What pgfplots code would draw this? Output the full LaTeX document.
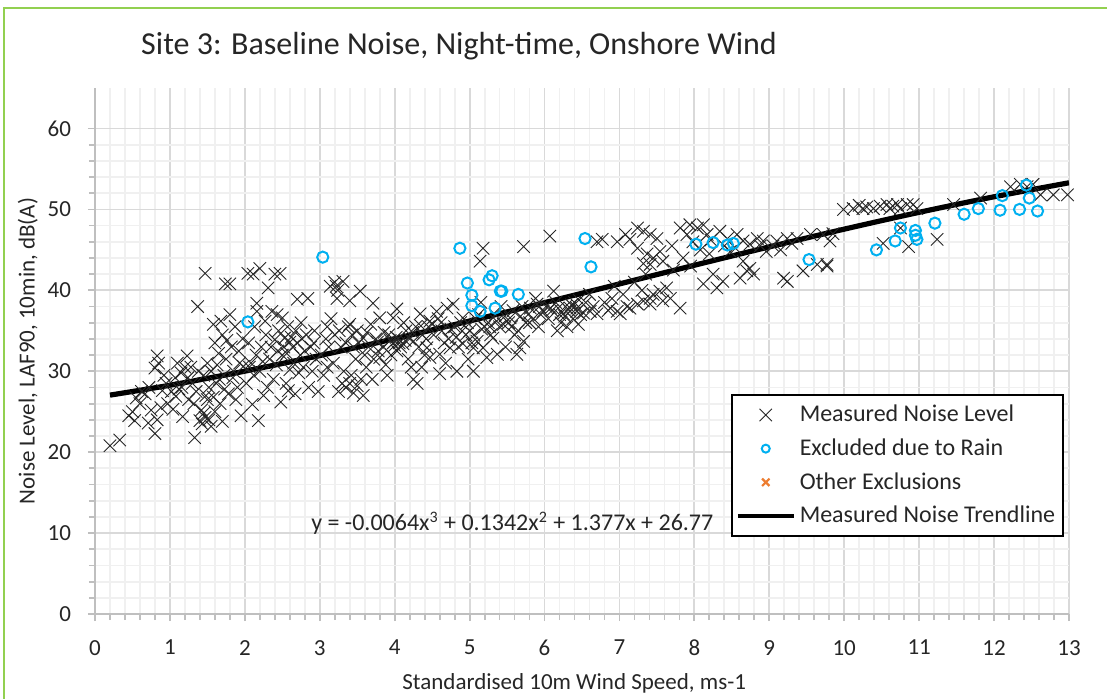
\documentclass[border=0pt]{standalone}
\usepackage{fontspec}
\setmainfont{Carlito}
\usepackage{pgfplots}
\pgfplotsset{compat=1.18}
\definecolor{gridmaj}{RGB}{217,217,217}
\definecolor{gridmin}{RGB}{240,240,240}
\definecolor{axgray}{RGB}{191,191,191}
\definecolor{txt}{RGB}{38,38,38}
\definecolor{rain}{RGB}{0,176,240}
\definecolor{other}{RGB}{237,125,49}
\definecolor{frame}{RGB}{146,208,80}
\pgfplotsset{
  markleg/.style={legend image code/.code={\path (0pt,0pt) (28pt,0pt); \draw[##1] plot coordinates {(14pt,0pt)};}},
  rainleg/.style={legend image code/.code={\path (0pt,0pt) (28pt,0pt); \draw[##1, mark size=2pt] plot coordinates {(14pt,0pt)};}},
  lineleg/.style={legend image code/.code={\draw[##1, line width=2pt] (0pt,0pt) -- (28pt,0pt);}},
}

% measured noise level (wind speed, LAF90)
\pgfplotstableread{
x y
0.20 20.8
0.33 21.5
0.45 24.5
0.50 25.0
0.53 23.9
0.55 26.7
0.60 26.0
0.62 27.5
0.67 27.2
0.71 23.6
0.72 28.0
0.75 25.2
0.80 22.3
0.83 24.0
0.83 31.9
0.85 31.0
0.80 30.4
0.88 25.5
0.90 27.6
0.92 29.5
0.95 28.5
0.97 26.0
1.02 27.5
1.04 25.3
1.07 29.2
1.08 26.9
1.10 31.0
1.12 27.8
1.15 29.8
1.16 28.0
1.17 24.4
1.20 30.5
1.23 31.9
1.24 29.2
1.25 26.5
1.28 30.5
1.30 28.5
1.32 26.0
1.33 21.8
1.35 27.5
1.37 38.0
1.38 30.0
1.40 23.9
1.42 25.2
1.43 23.5
1.45 24.8
1.45 29.5
1.47 24.3
1.47 42.1
1.48 27.0
1.50 31.0
1.50 26.5
1.52 24.0
1.52 28.0
1.55 23.2
1.55 30.0
1.58 35.8
1.58 26.8
1.60 33.5
1.60 25.0
1.62 28.5
1.63 30.8
1.65 32.2
1.66 29.0
1.67 26.0
1.68 36.2
1.70 34.5
1.70 23.8
1.72 29.5
1.73 27.8
1.74 40.8
1.75 31.5
1.76 33.8
1.78 27.2
1.80 40.8
1.80 37.0
1.82 33.0
1.84 29.2
1.85 30.0
1.87 35.5
1.88 26.5
1.90 28.0
1.92 32.5
1.93 31.0
1.95 24.5
1.97 34.0
1.98 30.6
2.02 28.5
2.04 42.1
2.05 33.5
2.06 30.5
2.08 31.0
2.10 25.9
2.11 42.0
2.12 29.5
2.13 35.5
2.15 32.0
2.16 38.4
2.16 37.4
2.18 23.9
2.20 42.7
2.20 30.0
2.22 33.0
2.24 31.2
2.25 27.0
2.27 36.2
2.28 34.5
2.30 28.0
2.31 40.3
2.33 31.5
2.35 33.0
2.36 37.4
2.38 29.0
2.40 42.0
2.40 33.9
2.42 30.8
2.43 37.0
2.44 32.5
2.45 35.0
2.47 42.1
2.48 26.2
2.50 36.6
2.50 32.0
2.52 33.0
2.53 34.1
2.55 28.5
2.56 32.2
2.57 35.5
2.58 27.6
2.60 33.6
2.60 30.2
2.62 34.2
2.64 33.0
2.65 31.0
2.67 27.2
2.68 35.0
2.70 38.9
2.70 33.5
2.72 29.8
2.74 32.0
2.75 36.0
2.76 34.0
2.78 30.5
2.80 32.5
2.82 34.5
2.84 39.0
2.85 28.0
2.88 33.0
2.90 30.0
2.92 33.5
2.93 35.0
2.95 31.5
2.98 27.5
3.02 32.0
3.05 29.5
3.08 34.0
3.10 30.5
3.10 35.5
3.12 33.0
3.14 40.5
3.15 36.5
3.18 31.0
3.20 41.0
3.20 34.5
3.22 40.5
3.24 40.0
3.23 39.0
3.25 27.5
3.26 35.0
3.28 33.0
3.30 28.5
3.31 41.1
3.32 30.0
3.35 28.0
3.35 33.5
3.38 35.5
3.40 38.7
3.40 35.8
3.40 28.5
3.42 29.5
3.43 34.5
3.45 27.3
3.45 33.0
3.48 31.5
3.50 35.0
3.50 28.2
3.52 33.5
3.54 39.9
3.55 29.0
3.58 34.1
3.58 27.0
3.60 32.0
3.62 30.5
3.63 34.8
3.65 33.0
3.68 35.8
3.70 29.0
3.71 38.4
3.72 31.5
3.75 34.0
3.77 33.6
3.78 32.5
3.80 36.6
3.80 31.7
3.85 33.0
3.86 34.8
3.88 30.8
3.90 29.5
3.92 34.5
3.94 33.8
3.95 32.0
3.98 36.6
3.98 33.5
4.00 33.2
4.02 34.2
4.03 37.7
4.03 32.5
4.05 34.0
4.06 33.5
4.08 33.0
4.11 33.4
4.12 36.0
4.14 33.8
4.15 35.0
4.18 31.5
4.20 34.0
4.22 30.5
4.24 34.8
4.25 29.0
4.25 33.7
4.28 35.5
4.30 28.5
4.32 33.0
4.34 37.1
4.35 35.6
4.36 30.5
4.37 34.5
4.40 32.0
4.42 34.0
4.43 32.9
4.45 35.5
4.47 31.7
4.47 36.2
4.50 35.8
4.52 34.5
4.56 37.4
4.58 36.5
4.60 32.1
4.60 29.7
4.62 36.0
4.63 35.0
4.66 33.5
4.68 31.0
4.70 37.8
4.72 34.0
4.74 32.9
4.75 35.2
4.78 38.3
4.80 35.5
4.82 34.2
4.83 30.0
4.85 33.0
4.88 36.0
4.90 35.0
4.91 36.6
4.91 33.4
4.95 34.5
4.97 36.0
4.98 31.5
5.00 35.0
5.03 33.5
5.05 32.9
5.05 30.0
5.06 34.5
5.08 36.5
5.10 33.7
5.12 37.0
5.14 43.6
5.15 38.5
5.16 35.2
5.18 45.2
5.18 32.9
5.20 35.5
5.23 31.7
5.25 36.0
5.27 35.5
5.28 34.5
5.31 34.1
5.34 37.0
5.36 36.2
5.37 32.1
5.40 35.5
5.42 38.0
5.45 35.8
5.47 36.8
5.48 33.0
5.52 36.0
5.54 36.6
5.56 35.5
5.58 37.5
5.60 34.5
5.63 32.1
5.65 35.0
5.67 32.9
5.68 36.8
5.70 38.0
5.72 33.7
5.72 45.4
5.75 36.0
5.78 37.0
5.80 36.0
5.81 37.8
5.85 36.5
5.88 39.0
5.90 38.3
5.92 35.5
5.93 38.0
5.95 37.0
5.98 37.4
6.02 38.0
6.05 36.5
6.07 46.7
6.08 37.8
6.10 37.5
6.12 39.9
6.15 38.5
6.17 35.0
6.18 37.8
6.20 37.0
6.22 36.0
6.25 37.1
6.27 36.8
6.28 38.0
6.30 35.5
6.34 37.8
6.34 37.4
6.36 38.2
6.38 36.5
6.40 38.5
6.43 37.4
6.43 37.8
6.45 35.8
6.46 38.8
6.48 37.0
6.52 37.2
6.55 38.5
6.60 39.5
6.61 37.4
6.65 38.0
6.70 37.1
6.70 46.0
6.77 46.3
6.80 38.5
6.85 37.5
6.88 37.8
6.90 39.0
6.93 40.5
6.97 46.0
6.97 37.4
7.01 37.1
7.05 39.5
7.08 46.9
7.10 38.0
7.14 46.3
7.14 37.8
7.20 41.0
7.24 47.7
7.24 45.2
7.24 38.3
7.30 40.0
7.32 47.3
7.32 43.3
7.32 38.7
7.35 42.0
7.37 44.5
7.41 46.9
7.41 43.2
7.41 39.0
7.41 38.3
7.45 44.0
7.45 39.5
7.50 46.4
7.54 44.8
7.54 39.9
7.58 43.6
7.58 38.7
7.63 40.3
7.68 39.0
7.70 45.5
7.72 42.5
7.81 47.7
7.81 37.8
7.85 44.0
7.90 46.9
7.94 48.1
7.95 43.0
7.98 46.0
8.04 47.7
8.08 45.0
8.12 48.1
8.12 40.8
8.17 46.9
8.20 44.5
8.22 46.2
8.25 42.0
8.30 40.3
8.34 47.3
8.38 41.1
8.40 45.5
8.44 46.4
8.48 44.8
8.55 45.2
8.57 46.9
8.61 41.5
8.65 46.1
8.65 43.6
8.70 42.4
8.74 45.7
8.74 42.7
8.79 42.0
8.84 46.4
8.88 45.5
8.92 46.1
8.96 44.8
9.05 45.5
9.10 46.1
9.15 45.0
9.19 41.5
9.24 46.4
9.24 41.1
9.30 45.8
9.37 46.4
9.45 42.4
9.55 46.9
9.64 43.2
9.72 46.9
9.77 43.2
9.77 43.0
9.81 46.1
9.85 47.0
9.99 50.0
10.12 50.1
10.20 50.5
10.25 50.1
10.30 50.3
10.39 50.1
10.48 50.4
10.52 45.8
10.57 50.6
10.61 50.1
10.65 50.4
10.71 50.6
10.75 50.1
10.75 47.7
10.84 50.6
10.86 45.4
10.92 50.6
10.97 50.1
11.24 46.3
11.46 50.6
11.82 51.4
12.22 52.8
12.35 53.1
12.44 52.8
12.52 53.1
12.62 51.8
12.79 51.8
12.98 51.8
}\measured

% excluded due to rain
\pgfplotstableread{
x y
2.04 36.1
3.04 44.1
4.87 45.2
4.97 40.9
5.03 39.4
5.03 38.1
5.14 37.4
5.26 41.3
5.30 41.8
5.34 37.8
5.41 39.9
5.43 39.9
5.65 39.5
6.54 46.4
6.62 42.9
8.02 45.7
8.25 45.9
8.44 45.6
8.52 45.8
9.53 43.8
10.43 45.0
10.68 46.1
10.75 47.7
10.95 47.4
10.95 46.8
10.97 46.3
11.21 48.3
11.60 49.4
11.79 50.1
12.08 49.9
12.11 51.7
12.34 50.0
12.43 53.0
12.47 51.4
12.58 49.8
}\rain

% cubic trendline, y = -0.0064x^3 + 0.1342x^2 + 1.377x + 26.77
\pgfplotstableread{
x y
0.2 27.05
1 28.27
2 30.01
3 31.94
4 34.02
5 36.21
6 38.48
7 40.79
8 43.10
9 45.37
10 47.56
11 49.64
12 51.56
13 53.29
}\trend

\begin{document}
\begin{tikzpicture}
\useasboundingbox (-47.5pt,-42pt) rectangle (506pt,307pt);
\draw[frame, line width=1.2pt] (-45.5pt,-45pt) -- (-45.5pt,303pt) -- (510pt,303pt);
\begin{axis}[
  scale only axis, width=487pt, height=263pt,
  xmin=0, xmax=13, ymin=0, ymax=65,
  xtick={0,1,...,13}, ytick={0,10,...,60},
  minor x tick num=4, minor y tick num=4,
  grid=both,
  major grid style={gridmaj, line width=0.9pt},
  minor grid style={gridmin, line width=0.9pt},
  axis x line*=bottom, axis y line*=left,
  axis line style={axgray, line width=0.9pt, -},
  tick style={axgray, line width=0.9pt},
  tick align=outside,
  major tick length=3.5pt, minor tick length=3pt,
  /pgf/number format/assume math mode=true,
  ticklabel style={font=\fontsize{11.5}{13}\selectfont, text=txt},
  yticklabel style={xshift=-5pt},
  xticklabel style={yshift=-6pt},
  xlabel={Standardised 10m Wind Speed, ms-1},
  ylabel={Noise Level, LAF90, 10min, dB(A)},
  xlabel style={font=\fontsize{11.5}{13}\selectfont, text=txt, at={(axis description cs:0.492,-0.131)}, anchor=center},
  ylabel style={font=\fontsize{11.5}{13}\selectfont, text=txt, at={(axis description cs:-0.069,0.5)}, anchor=center},
  legend style={at={(0.995,0.418)}, anchor=north east, draw=black, line width=1pt,
    fill=white, font=\fontsize{12}{14}\selectfont, text=txt,
    row sep=3pt, inner xsep=2pt, inner ysep=3pt, cells={anchor=west}},
  legend cell align=left,
]
\addplot[only marks, mark=x, mark size=4.4pt, black!85, line width=0.45pt, markleg]
  table {\measured};
\addlegendentry{Measured Noise Level}
\addplot[only marks, mark=o, mark size=2.8pt, rain, line width=1pt, rainleg]
  table {\rain};
\addlegendentry{Excluded due to Rain}
\addlegendimage{only marks, mark=x, mark size=2.6pt, other, line width=1.1pt, markleg}
\addlegendentry{Other Exclusions}
\addplot[black, line width=2.6pt, smooth, lineleg]
  table {\trend};
\addlegendentry{Measured Noise Trendline}
\node[font=\fontsize{12}{14}\selectfont, text=txt] at (axis cs:5.57,11.2)
  {y = -0.0064x\textsuperscript{3} + 0.1342x\textsuperscript{2} + 1.377x + 26.77};
\end{axis}
\node[font=\fontsize{16}{18}\selectfont, text=txt] at (182pt,284pt)
  {Site 3: Baseline Noise, Night-time, Onshore Wind};
\end{tikzpicture}
\end{document}
